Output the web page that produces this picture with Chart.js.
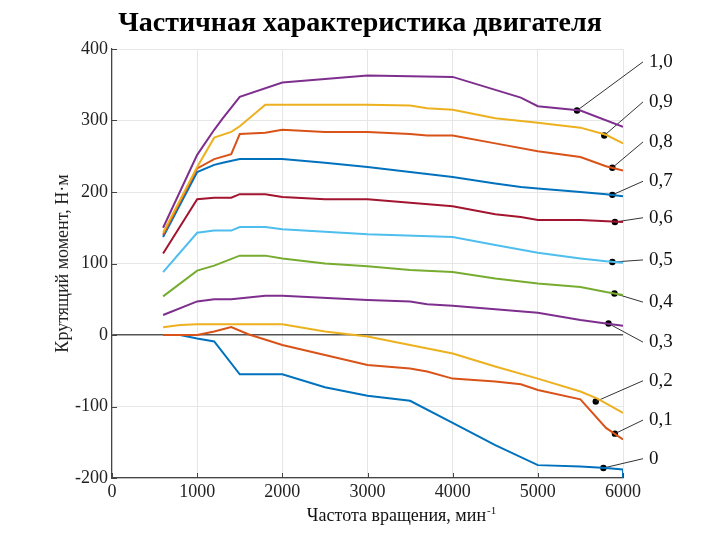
<!DOCTYPE html>
<html lang="ru">
<head>
  <meta charset="UTF-8">
  <title>Частичная характеристика двигателя</title>
  <script src="https://cdn.jsdelivr.net/npm/chart.js"></script>
  <style>
    body { margin: 0; background: #fff; }
    #wrap { width: 720px; height: 540px; }
  </style>
</head>
<body>
  <div id="wrap"><canvas id="chart" width="720" height="540"></canvas></div>

  <script>
    // Кривые по степени открытия дросселя: обороты (мин-1) и момент (Н·м)
    const rpm10 = [600, 1000, 1200, 1300, 1500, 2000, 3000, 4000, 4800, 5000, 5500, 6000];
    const tq10  = [150, 252, 287, 303, 333, 353, 363, 361, 332, 320, 314, 291];

    const rpm09 = [600, 1000, 1200, 1400, 1500, 1800, 2000, 3000, 3500, 3700, 4000, 4500, 5000, 5500, 5800, 6000];
    const tq09  = [143, 235, 276, 284, 292, 322, 322, 322, 321, 317, 315, 303, 297, 290, 280, 268];

    const rpm08 = [600, 1000, 1200, 1400, 1500, 1800, 2000, 2500, 3000, 3500, 3700, 4000, 4500, 5000, 5500, 5800, 6000];
    const tq08  = [140, 233, 246, 253, 281, 283, 287, 284, 284, 281, 279, 279, 268, 257, 249, 236, 230];

    const rpm07 = [600, 1000, 1200, 1300, 1500, 2000, 2500, 3000, 4000, 4500, 4800, 5000, 5500, 5800, 6000];
    const tq07  = [137, 228, 238, 241, 246, 246, 241, 235, 221, 212, 207, 205, 200, 197, 194];

    const rpm06 = [600, 1000, 1200, 1400, 1500, 1800, 2000, 2500, 3000, 4000, 4500, 4800, 5000, 5500, 6000];
    const tq06  = [114, 190, 192, 192, 197, 197, 193, 190, 190, 180, 169, 165, 161, 161, 158];

    const rpm05 = [600, 1000, 1200, 1400, 1500, 1800, 2000, 3000, 4000, 4500, 5000, 5500, 5800, 6000];
    const tq05  = [88, 143, 146, 146, 151, 151, 148, 141, 137, 126, 115, 107, 103, 101];

    const rpm04 = [600, 1000, 1200, 1500, 1800, 2000, 2500, 3000, 3500, 4000, 4500, 5000, 5500, 5800, 6000];
    const tq04  = [54, 90, 97, 111, 111, 107, 100, 96, 91, 88, 79, 72, 67, 60, 56];

    const rpm03 = [600, 1000, 1200, 1400, 1800, 2000, 3000, 3500, 3700, 4000, 5000, 5500, 5800, 6000];
    const tq03  = [28, 47, 50, 50, 55, 55, 49, 47, 43, 41, 31, 21, 16, 13];

    const rpm02 = [600, 800, 1000, 2000, 2500, 3000, 3500, 4000, 4500, 5000, 5500, 5700, 6000];
    const tq02  = [11, 14, 15, 15, 5, -2, -14, -26, -44, -61, -79, -89, -109];

    const rpm01 = [600, 1000, 1200, 1400, 1600, 2000, 2500, 3000, 3500, 3700, 4000, 4500, 4800, 5000, 5500, 5800, 6000];
    const tq01  = [0, 0, 5, 11, 1, -14, -28, -42, -47, -51, -61, -65, -69, -77, -90, -130, -146];

    const rpm00 = [600, 800, 1000, 1200, 1500, 2000, 2500, 3000, 3500, 4000, 4500, 5000, 5500, 5800, 6000, 6000];
    const tq00  = [0, 0, -5, -9, -55, -55, -73, -85, -92, -123, -154, -182, -184, -186, -188, -200];

    // Подписи кривых, точки на кривых и положение подписей
    const curveLabels = ['1,0', '0,9', '0,8', '0,7', '0,6', '0,5', '0,4', '0,3', '0,2', '0,1', '0'];
    const markerRpm = [5460, 5780, 5875, 5875, 5905, 5875, 5900, 5830, 5680, 5905, 5770];
    const markerTq  = [314, 279, 234, 196, 158, 102, 58, 16, -93, -138, -186];
    const labelRpm  = 6235;
    const labelTq   = [382, 326, 270, 215, 164, 105, 46, -10, -64, -119, -173];

    const curves = [
      [rpm10, tq10, '#7E2F8E'],
      [rpm09, tq09, '#EDB120'],
      [rpm08, tq08, '#D95319'],
      [rpm07, tq07, '#0072BD'],
      [rpm06, tq06, '#A2142F'],
      [rpm05, tq05, '#4DBEEE'],
      [rpm04, tq04, '#77AC30'],
      [rpm03, tq03, '#7E2F8E'],
      [rpm02, tq02, '#EDB120'],
      [rpm01, tq01, '#D95319'],
      [rpm00, tq00, '#0072BD']
    ];

    const serif = '"Liberation Serif", "DejaVu Serif", serif';

    const datasets = curves.map(([xs, ys, color]) => ({
      data: xs.map((x, i) => ({ x: x, y: ys[i] })),
      borderColor: color,
      borderWidth: 2,
      pointRadius: 0,
      tension: 0
    }));

    // выноски от точки на кривой к подписи
    curveLabels.forEach((lbl, i) => {
      datasets.push({
        data: [{ x: markerRpm[i], y: markerTq[i] }, { x: labelRpm, y: labelTq[i] }],
        borderColor: '#333',
        borderWidth: 1,
        pointRadius: 0,
        clip: false
      });
    });

    datasets.push({
      data: markerRpm.map((x, i) => ({ x: x, y: markerTq[i] })),
      showLine: false,
      pointRadius: 3.2,
      pointBackgroundColor: '#000',
      pointBorderWidth: 0
    });

    // подписи кривых, внутренние засечки и подпись оси X
    const extras = {
      id: 'extras',
      afterDraw(chart) {
        const { ctx, scales: { x, y } } = chart;
        ctx.save();
        ctx.strokeStyle = '#444';
        ctx.lineWidth = 1;
        ctx.beginPath();
        y.ticks.forEach(t => {
          const py = Math.round(y.getPixelForValue(t.value)) + 0.5;
          ctx.moveTo(x.left, py); ctx.lineTo(x.left + 5, py);
        });
        x.ticks.forEach(t => {
          const px = Math.round(x.getPixelForValue(t.value)) + 0.5;
          ctx.moveTo(px, y.bottom); ctx.lineTo(px, y.bottom - 5);
        });
        ctx.stroke();

        ctx.fillStyle = '#111';
        ctx.font = '19px ' + serif;
        ctx.textBaseline = 'middle';
        ctx.textAlign = 'left';
        curveLabels.forEach((lbl, i) => {
          ctx.fillText(lbl, x.getPixelForValue(labelRpm) + 6, y.getPixelForValue(labelTq[i]));
        });

        const main = 'Частота вращения, мин';
        ctx.font = '18px ' + serif;
        const w = ctx.measureText(main).width;
        ctx.font = '11px ' + serif;
        const w2 = ctx.measureText('-1').width;
        const sx = 401 - (w + w2) / 2;
        ctx.textBaseline = 'alphabetic';
        ctx.font = '18px ' + serif;
        ctx.fillText(main, sx, 521);
        ctx.font = '11px ' + serif;
        ctx.fillText('-1', sx + w + 1, 514);
        ctx.restore();
      }
    };

    new Chart(document.getElementById('chart'), {
      type: 'line',
      data: { datasets: datasets },
      options: {
        responsive: false,
        animation: false,
        layout: { padding: 0 },
        plugins: {
          legend: { display: false },
          tooltip: { enabled: false },
          title: {
            display: true,
            text: 'Частичная характеристика двигателя',
            color: '#000',
            font: { family: serif, size: 28, weight: 'bold', lineHeight: 1.2 },
            padding: { top: 6.5, bottom: 8.9 }
          }
        },
        scales: {
          x: {
            type: 'linear',
            min: 0,
            max: 6000,
            afterFit: s => { s.height = 62; },
            ticks: {
              stepSize: 1000, padding: 3, color: '#222',
              font: { family: serif, size: 18 },
              callback: v => String(v)
            },
            grid: { color: '#e6e6e6', drawTicks: false },
            border: { color: '#444', width: 1.2 }
          },
          y: {
            min: -200,
            max: 400,
            afterFit: s => { s.width = 112; },
            ticks: { stepSize: 100, padding: 4, color: '#222', font: { family: serif, size: 18 } },
            grid: {
              drawTicks: false,
              color: c => c.tick.value === 0 ? '#555' : '#e6e6e6',
              lineWidth: c => c.tick.value === 0 ? 1.5 : 1
            },
            border: { color: '#444', width: 1.2 },
            title: {
              display: true,
              text: 'Крутящий момент, Н·м',
              color: '#222',
              font: { family: serif, size: 18, lineHeight: 1.2 },
              padding: { top: 52, bottom: 0 }
            }
          },
          // пустая правая ось — место под подписи кривых
          side: {
            position: 'right',
            afterFit: s => { s.width = 97; },
            ticks: { display: false },
            grid: { display: false },
            border: { display: false }
          }
        }
      },
      plugins: [extras]
    });
  </script>
</body>
</html>
